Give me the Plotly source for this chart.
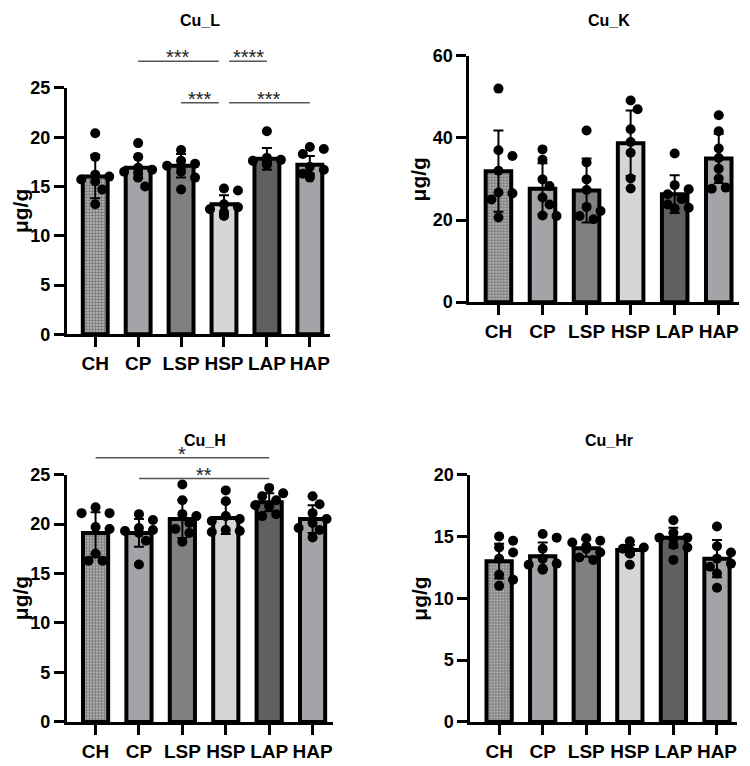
import numpy as np
import plotly.graph_objects as go

W, H = 750, 766
FONT = "Arial, Liberation Sans, sans-serif"

groups = ["CH", "CP", "LSP", "HSP", "LAP", "HAP"]
bar_colors = ["#b0b0b0", "#a4a4a8", "#808080", "#d6d6d6", "#606060", "#a4a4a8"]

cuL_mean = [16.0, 16.9, 17.1, 13.2, 17.8, 17.2]
cuL_sd = [2.2, 1.1, 1.2, 0.9, 1.1, 0.9]
cuL_pts = [
    [20.4, 18.0, 16.2, 16.0, 15.7, 15.5, 14.7, 13.2],
    [19.4, 18.0, 16.9, 16.7, 16.5, 16.4, 15.9, 15.0],
    [18.7, 17.6, 17.3, 17.1, 17.0, 16.5, 15.9, 14.7],
    [14.8, 14.6, 13.2, 12.9, 12.7, 12.4, 12.1, 12.0],
    [20.6, 17.9, 17.7, 17.6, 17.5, 17.4, 17.3, 17.2],
    [19.0, 18.8, 18.3, 17.0, 16.7, 16.3, 16.1, 15.9],
]
cuK_mean = [31.9, 27.6, 27.2, 38.7, 26.3, 35.0]
cuK_sd = [9.9, 6.2, 7.8, 8.0, 4.6, 6.0]
cuK_pts = [
    [52.0, 37.0, 35.6, 32.0, 26.7, 26.5, 25.0, 20.6],
    [37.2, 34.7, 29.9, 28.3, 25.5, 23.8, 21.1, 21.0],
    [41.8, 34.0, 29.9, 27.3, 23.2, 22.2, 21.0, 20.2],
    [49.1, 47.0, 42.1, 39.0, 36.4, 30.1, 27.7],
    [36.2, 28.5, 27.5, 26.3, 25.1, 23.8, 23.0, 22.8],
    [45.5, 41.6, 37.4, 35.1, 32.5, 30.1, 27.9, 27.6],
]
cuH_mean = [19.1, 19.1, 20.5, 20.6, 22.2, 20.5]
cuH_sd = [2.1, 1.4, 1.9, 1.6, 0.9, 1.4]
cuH_pts = [
    [21.7, 21.1, 21.1, 19.7, 19.5, 17.0, 16.3, 16.3],
    [21.0, 20.4, 19.6, 19.4, 19.3, 19.1, 18.3, 15.9],
    [24.0, 22.4, 21.0, 20.8, 20.1, 19.5, 19.1, 18.2],
    [23.4, 22.3, 20.8, 20.5, 20.3, 19.4, 19.3, 19.2],
    [23.65, 23.1, 22.8, 22.4, 21.9, 21.8, 21.0, 20.8],
    [22.8, 22.0, 21.1, 20.5, 20.1, 19.6, 19.4, 18.65],
]
cuHr_mean = [13.0, 13.4, 14.05, 13.9, 14.9, 13.2]
cuHr_sd = [1.4, 1.1, 0.7, 0.4, 0.8, 1.5]
cuHr_pts = [
    [15.0, 14.65, 14.1, 13.7, 13.2, 11.9, 11.5, 11.0],
    [15.2, 14.9, 14.0, 13.2, 12.8, 12.7, 12.4, 12.3],
    [14.85, 14.65, 14.5, 14.2, 14.0, 13.7, 13.3, 13.1],
    [14.6, 14.1, 14.0, 13.9, 13.8, 13.7, 13.6, 12.7],
    [16.3, 15.3, 14.9, 14.9, 14.8, 14.3, 14.1, 13.1],
    [15.8, 14.2, 13.7, 13.2, 12.8, 12.55, 12.0, 10.85],
]

# significance brackets: (group a, group b, level value, label, end gap a, end gap b)
cuL_sig = [
    ("CP", "HSP", 27.7, "***", 0.0, 0.12),
    ("HSP", "LAP", 27.7, "****", 0.12, 0.0),
    ("LSP", "HSP", 23.5, "***", 0.0, 0.12),
    ("HSP", "HAP", 23.5, "***", 0.12, 0.0),
]
cuH_sig = [
    ("CH", "LAP", 26.7, "*", 0.0, 0.0),
    ("CP", "LAP", 24.6, "**", 0.0, 0.0),
]

XR = [-0.66, 5.46]
panels = [
    dict(name="Cu_L", mean=cuL_mean, sd=cuL_sd, pts=cuL_pts, sig=cuL_sig,
         dx=(67, 330), dy=(80, 333), ymax=25, dtick=5, title=(200, 11), ytx=20),
    dict(name="Cu_K", mean=cuK_mean, sd=cuK_sd, pts=cuK_pts, sig=[],
         dx=(470, 740), dy=(47, 300), ymax=60, dtick=20, title=(610, 11), ytx=420),
    dict(name="Cu_H", mean=cuH_mean, sd=cuH_sd, pts=cuH_pts, sig=cuH_sig,
         dx=(67, 333), dy=(477, 731), ymax=25, dtick=5, title=(205, 442), ytx=20),
    dict(name="Cu_Hr", mean=cuHr_mean, sd=cuHr_sd, pts=cuHr_pts, sig=[],
         dx=(471, 738), dy=(477, 731), ymax=20, dtick=5, title=(610, 442), ytx=420),
]


def swarm(values, ppu, ppc, diam=10.0):
    vals = np.asarray(values, dtype=float)
    order = np.argsort(-vals, kind="stable")
    placed = []
    offs = np.zeros(len(vals))
    step = diam * 0.7
    for i in order:
        y = vals[i] * ppu
        chosen = 0.0
        for k in [0, 1, -1, 2, -2]:
            x = k * step
            if all((x - px) ** 2 + (y - py) ** 2 >= (diam * 0.95) ** 2 for px, py in placed):
                chosen = x
                break
        placed.append((chosen, y))
        offs[i] = chosen / ppc
    return offs


fig = go.Figure()
layout = dict(width=W, height=H, margin=dict(l=0, r=0, t=0, b=0),
              paper_bgcolor="white", plot_bgcolor="white", showlegend=False)
annotations = []
shapes = []

for k, p in enumerate(panels, start=1):
    xa = "x" if k == 1 else f"x{k}"
    ya = "y" if k == 1 else f"y{k}"
    dom_x = [p["dx"][0] / W, p["dx"][1] / W]
    dom_y = [1 - p["dy"][1] / H, 1 - p["dy"][0] / H]
    ppc = (p["dx"][1] - p["dx"][0]) / (XR[1] - XR[0])
    ppu = (p["dy"][1] - p["dy"][0]) / p["ymax"]

    fig.add_trace(go.Bar(
        x=list(range(6)), y=p["mean"], width=0.58,
        marker=dict(color=bar_colors, line=dict(color="black", width=4),
                    pattern=dict(shape=["+", "", "", "", "", ""], size=3, solidity=0.5,
                                 fgcolor="#6a6a6a", fillmode="overlay")),
        error_y=dict(type="data", array=p["sd"], visible=True, color="black",
                     thickness=2, width=5),
        xaxis=xa, yaxis=ya, hoverinfo="skip"))

    xs, ys = [], []
    for gi, vals in enumerate(p["pts"]):
        offs = swarm(vals, ppu, ppc)
        xs += list(gi + offs)
        ys += list(vals)
    fig.add_trace(go.Scatter(
        x=xs, y=ys, mode="markers", cliponaxis=False,
        marker=dict(color="black", size=10, line=dict(width=0)),
        xaxis=xa, yaxis=ya, hoverinfo="skip"))

    axkey = "xaxis" if k == 1 else f"xaxis{k}"
    aykey = "yaxis" if k == 1 else f"yaxis{k}"
    layout[axkey] = dict(domain=dom_x, anchor=ya, range=XR, tickvals=list(range(6)),
                         ticktext=groups, showline=True, linewidth=3, linecolor="black",
                         ticks="outside", ticklen=10, tickwidth=3, tickcolor="black",
                         showgrid=False, zeroline=False, fixedrange=True,
                         tickfont=dict(family=FONT, size=19, color="black", weight="bold"))
    layout[aykey] = dict(domain=dom_y, anchor=xa, range=[0, p["ymax"]], tick0=0,
                         dtick=p["dtick"], showline=True, linewidth=3, linecolor="black",
                         ticks="outside", ticklen=10, tickwidth=3, tickcolor="black",
                         showgrid=False, zeroline=False, fixedrange=True,
                         tickfont=dict(family=FONT, size=18, color="black", weight="bold"))

    annotations.append(dict(text=p["name"], x=p["title"][0] / W, y=1 - p["title"][1] / H,
                            xref="paper", yref="paper", showarrow=False,
                            xanchor="center", yanchor="middle",
                            font=dict(family=FONT, size=16, color="black", weight="bold")))
    annotations.append(dict(text="μg/g", x=p["ytx"] / W,
                            y=1 - (p["dy"][0] + p["dy"][1]) / 2 / H,
                            xref="paper", yref="paper", showarrow=False, textangle=-90,
                            xanchor="center", yanchor="middle",
                            font=dict(family=FONT, size=21, color="black", weight="bold")))

    def to_px_x(v, p=p, ppc=ppc):
        return p["dx"][0] + (v - XR[0]) * ppc

    def to_px_y(v, p=p, ppu=ppu):
        return p["dy"][1] - v * ppu

    for a, b, lvl, lab, ga, gb in p["sig"]:
        x0 = to_px_x(groups.index(a) + ga)
        x1 = to_px_x(groups.index(b) - gb)
        yy = to_px_y(lvl)
        shapes.append(dict(type="line", xref="paper", yref="paper",
                           x0=x0 / W, x1=x1 / W, y0=1 - yy / H, y1=1 - yy / H,
                           line=dict(color="#555555", width=1.4)))
        annotations.append(dict(text=lab, x=(x0 + x1) / 2 / W, y=1 - yy / H,
                                xref="paper", yref="paper", showarrow=False,
                                xanchor="center", yanchor="bottom", yshift=-9,
                                font=dict(family=FONT, size=20, color="#222222")))

layout["annotations"] = annotations
layout["shapes"] = shapes
fig.update_layout(**layout)
fig.write_html("out.html")
